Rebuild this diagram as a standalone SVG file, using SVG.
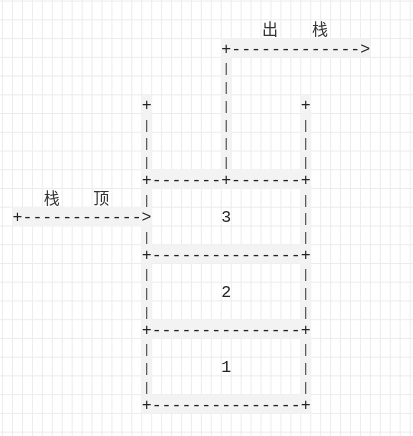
<svg xmlns="http://www.w3.org/2000/svg" width="413" height="436" viewBox="0 0 413 436">
<defs>
<filter id="gray" x="0" y="0" width="413" height="436" filterUnits="userSpaceOnUse"><feOffset dx="0" dy="0"/></filter>
</defs>
<style>
.g line{stroke:#ececec;stroke-width:1}
.hl{fill:#f3f3f3}
.t{font-family:"Liberation Mono","DejaVu Sans Mono",monospace;font-size:16.56px;fill:#222;white-space:pre}
.v{font-family:"Liberation Mono","DejaVu Sans Mono",monospace;font-size:12.4px;fill:#333;text-anchor:middle}
.c{font-family:"Noto Sans CJK SC","Noto Sans CJK JP",sans-serif;font-size:16px;fill:#333;text-anchor:middle}
</style>
<rect width="413" height="436" fill="#ffffff"/>
<g class="g" id="grid">
<line x1="2.59" y1="0" x2="2.59" y2="436"/><line x1="12.53" y1="0" x2="12.53" y2="436"/><line x1="22.47" y1="0" x2="22.47" y2="436"/><line x1="32.41" y1="0" x2="32.41" y2="436"/><line x1="42.35" y1="0" x2="42.35" y2="436"/><line x1="52.29" y1="0" x2="52.29" y2="436"/><line x1="62.23" y1="0" x2="62.23" y2="436"/><line x1="72.17" y1="0" x2="72.17" y2="436"/><line x1="82.11" y1="0" x2="82.11" y2="436"/><line x1="92.05" y1="0" x2="92.05" y2="436"/><line x1="101.99" y1="0" x2="101.99" y2="436"/><line x1="111.93" y1="0" x2="111.93" y2="436"/><line x1="121.87" y1="0" x2="121.87" y2="436"/><line x1="131.81" y1="0" x2="131.81" y2="436"/><line x1="141.75" y1="0" x2="141.75" y2="436"/><line x1="151.69" y1="0" x2="151.69" y2="436"/><line x1="161.63" y1="0" x2="161.63" y2="436"/><line x1="171.57" y1="0" x2="171.57" y2="436"/><line x1="181.51" y1="0" x2="181.51" y2="436"/><line x1="191.45" y1="0" x2="191.45" y2="436"/><line x1="201.39" y1="0" x2="201.39" y2="436"/><line x1="211.33" y1="0" x2="211.33" y2="436"/><line x1="221.27" y1="0" x2="221.27" y2="436"/><line x1="231.21" y1="0" x2="231.21" y2="436"/><line x1="241.15" y1="0" x2="241.15" y2="436"/><line x1="251.09" y1="0" x2="251.09" y2="436"/><line x1="261.03" y1="0" x2="261.03" y2="436"/><line x1="270.97" y1="0" x2="270.97" y2="436"/><line x1="280.91" y1="0" x2="280.91" y2="436"/><line x1="290.85" y1="0" x2="290.85" y2="436"/><line x1="300.79" y1="0" x2="300.79" y2="436"/><line x1="310.73" y1="0" x2="310.73" y2="436"/><line x1="320.67" y1="0" x2="320.67" y2="436"/><line x1="330.61" y1="0" x2="330.61" y2="436"/><line x1="340.55" y1="0" x2="340.55" y2="436"/><line x1="350.49" y1="0" x2="350.49" y2="436"/><line x1="360.43" y1="0" x2="360.43" y2="436"/><line x1="370.37" y1="0" x2="370.37" y2="436"/><line x1="380.31" y1="0" x2="380.31" y2="436"/><line x1="390.25" y1="0" x2="390.25" y2="436"/><line x1="400.19" y1="0" x2="400.19" y2="436"/><line x1="410.13" y1="0" x2="410.13" y2="436"/>
<line x1="0" y1="1.1" x2="413" y2="1.1"/><line x1="0" y1="19.84" x2="413" y2="19.84"/><line x1="0" y1="38.58" x2="413" y2="38.58"/><line x1="0" y1="57.32" x2="413" y2="57.32"/><line x1="0" y1="76.06" x2="413" y2="76.06"/><line x1="0" y1="94.8" x2="413" y2="94.8"/><line x1="0" y1="113.54" x2="413" y2="113.54"/><line x1="0" y1="132.28" x2="413" y2="132.28"/><line x1="0" y1="151.02" x2="413" y2="151.02"/><line x1="0" y1="169.76" x2="413" y2="169.76"/><line x1="0" y1="188.5" x2="413" y2="188.5"/><line x1="0" y1="207.24" x2="413" y2="207.24"/><line x1="0" y1="225.98" x2="413" y2="225.98"/><line x1="0" y1="244.72" x2="413" y2="244.72"/><line x1="0" y1="263.46" x2="413" y2="263.46"/><line x1="0" y1="282.2" x2="413" y2="282.2"/><line x1="0" y1="300.94" x2="413" y2="300.94"/><line x1="0" y1="319.68" x2="413" y2="319.68"/><line x1="0" y1="338.42" x2="413" y2="338.42"/><line x1="0" y1="357.16" x2="413" y2="357.16"/><line x1="0" y1="375.9" x2="413" y2="375.9"/><line x1="0" y1="394.64" x2="413" y2="394.64"/><line x1="0" y1="413.38" x2="413" y2="413.38"/><line x1="0" y1="432.12" x2="413" y2="432.12"/>
</g>
<g id="highlight">
<rect class="hl" x="221.27" y="38.58" width="149.1" height="18.74"/>
<rect class="hl" x="221.27" y="38.58" width="9.94" height="149.92"/>
<rect class="hl" x="141.75" y="94.8" width="9.94" height="318.58"/>
<rect class="hl" x="300.79" y="94.8" width="9.94" height="318.58"/>
<rect class="hl" x="141.75" y="169.76" width="168.98" height="18.74"/>
<rect class="hl" x="12.53" y="207.24" width="139.16" height="18.74"/>
<rect class="hl" x="141.75" y="244.72" width="168.98" height="18.74"/>
<rect class="hl" x="141.75" y="319.68" width="168.98" height="18.74"/>
<rect class="hl" x="141.75" y="394.64" width="168.98" height="18.74"/>
</g>
<g filter="url(#gray)">
<g id="connectors">
<text class="t" x="221.27" y="53.58">+-------------&gt;</text>
<text class="v" x="226.24" y="72.32">|</text>
<text class="v" x="226.24" y="91.06">|</text>
<text class="v" x="226.24" y="109.8">|</text>
<text class="v" x="226.24" y="128.54">|</text>
<text class="v" x="226.24" y="147.28">|</text>
<text class="v" x="226.24" y="166.02">|</text>
<text class="t" x="12.53" y="222.24">+------------&gt;</text>
</g>
<g id="stack">
<text class="t" x="141.75" y="109.8">+</text>
<text class="t" x="300.79" y="109.8">+</text>
<text class="v" x="146.72" y="128.54">|</text><text class="v" x="305.76" y="128.54">|</text>
<text class="v" x="146.72" y="147.28">|</text><text class="v" x="305.76" y="147.28">|</text>
<text class="v" x="146.72" y="166.02">|</text><text class="v" x="305.76" y="166.02">|</text>
<text class="t" x="141.75" y="184.76">+-------+-------+</text>
<text class="v" x="146.72" y="203.5">|</text><text class="v" x="305.76" y="203.5">|</text>
<text class="v" x="305.76" y="222.24">|</text>
<text class="v" x="146.72" y="240.98">|</text><text class="v" x="305.76" y="240.98">|</text>
<text class="t" x="141.75" y="259.72">+---------------+</text>
<text class="v" x="146.72" y="278.46">|</text><text class="v" x="305.76" y="278.46">|</text>
<text class="v" x="146.72" y="297.2">|</text><text class="v" x="305.76" y="297.2">|</text>
<text class="v" x="146.72" y="315.94">|</text><text class="v" x="305.76" y="315.94">|</text>
<text class="t" x="141.75" y="334.68">+---------------+</text>
<text class="v" x="146.72" y="353.42">|</text><text class="v" x="305.76" y="353.42">|</text>
<text class="v" x="146.72" y="372.16">|</text><text class="v" x="305.76" y="372.16">|</text>
<text class="v" x="146.72" y="390.9">|</text><text class="v" x="305.76" y="390.9">|</text>
<text class="t" x="141.75" y="409.64">+---------------+</text>
</g>
<g id="item3"><text class="t" x="221.27" y="222.24">3</text></g>
<g id="item2"><text class="t" x="221.27" y="297.2">2</text></g>
<g id="item1"><text class="t" x="221.27" y="372.16">1</text></g>
<g id="label-pop">
<text class="c" x="270" y="35">出</text>
<text class="c" x="320" y="35">栈</text>
</g>
<g id="label-top">
<text class="c" x="51.7" y="203.8">栈</text>
<text class="c" x="101.3" y="203.8">顶</text>
</g>
</g>
</svg>
